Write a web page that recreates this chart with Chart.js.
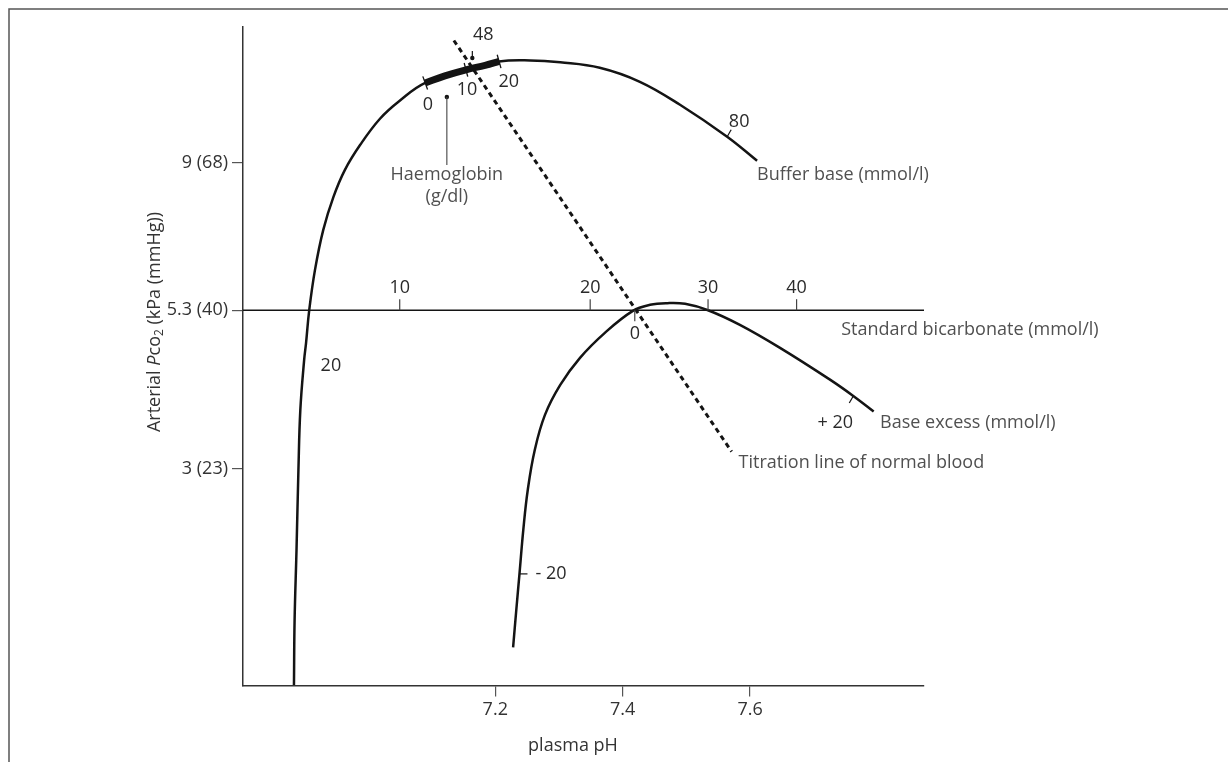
<!DOCTYPE html>
<html><head><meta charset="utf-8">
<script src="https://cdn.jsdelivr.net/npm/chart.js@4"></script>
<style>html,body{margin:0;padding:0;background:#fff}canvas{display:block}</style>
</head><body>
<canvas id="c" width="1228" height="762"></canvas>
<script>
// ---- data (pH, arterial PCO2 in kPa) ----
const bufferBasePH   = [6.884, 6.885, 6.888, 6.891, 6.894, 6.900, 6.903, 6.908, 6.917, 6.930, 6.946, 6.964, 6.988, 7.019, 7.050, 7.090, 7.154, 7.206, 7.255, 7.302, 7.364, 7.427, 7.490, 7.564, 7.611];
const bufferBasePCO2 = [1.382, 1.746, 2.243, 2.989, 3.707, 4.436, 4.714, 5.306, 6.125, 7.070, 7.958, 8.767, 9.590, 10.53, 11.23, 11.97, 12.55, 12.93, 12.98, 12.89, 12.64, 12.02, 11.07, 9.87, 9.055];
const hbPH   = [7.090, 7.121, 7.154, 7.184, 7.206];
const hbPCO2 = [11.97, 12.28, 12.55, 12.75, 12.93];
const hbTickIdx = [0, 2, 4];
const hbTickLabels = ['0', '10', '20'];
const baseExcessPH   = [7.228, 7.233, 7.238, 7.244, 7.251, 7.262, 7.278, 7.302, 7.333, 7.372, 7.416, 7.443, 7.470, 7.498, 7.534, 7.584, 7.647, 7.726, 7.762, 7.794];
const baseExcessPCO2 = [1.582, 1.809, 2.059, 2.411, 2.782, 3.211, 3.641, 4.054, 4.467, 4.886, 5.287, 5.403, 5.436, 5.422, 5.299, 5.028, 4.630, 4.128, 3.897, 3.685];
const titrationPH   = [7.135, 7.571];
const titrationPCO2 = [13.94, 3.192];
const stdBicarbPH   = [6.804, 7.873];
const stdBicarbPCO2 = [5.3, 5.3];
const stdBicarbTickPH = [7.050, 7.349, 7.534, 7.673];
const stdBicarbTickLabels = ['10', '20', '30', '40'];
const xTicks = [7.2, 7.4, 7.6];
const yTicks = [3, 5.3, 9];
const yTickLabels = ['3 (23)', '5.3 (40)', '9 (68)'];
const beZero = [7.419, 5.3];
const point48 = [7.164, 13.09];
const hbDot = [7.124, 11.38];
const bb80 = [7.564, 9.87];
const bePlus20 = [7.762, 3.897];
const beMinus20 = [7.238, 2.059];
const bb20Label = [6.942, 4.341];
const sideLabelText = ['Buffer base (mmol/l)', 'Standard bicarbonate (mmol/l)', 'Base excess (mmol/l)', 'Titration line of normal blood'];
const sideLabelPH   = [7.611, 7.743, 7.804, 7.582];
const sideLabelPCO2 = [8.61, 4.94, 3.538, 3.062];

const FONT = '"Open Sans", "Noto Sans", sans-serif';
const FS = 18;
const INK = '#141414';
const NUM = '#2a2a2a';
const TXT = '#505050';

const pts = (xs, ys) => xs.map((x, i) => ({x, y: ys[i]}));

const annot = {
  id: 'annot',
  beforeDraw(chart) {
    const c = chart.ctx;
    c.save();
    c.strokeStyle = '#555';
    c.lineWidth = 1.5;
    c.beginPath();
    c.moveTo(9, 762); c.lineTo(9, 9); c.lineTo(1228, 9);
    c.stroke();
    c.restore();
  },
  afterDatasetsDraw(chart) {
    const c = chart.ctx, xs = chart.scales.x, ys = chart.scales.y, ca = chart.chartArea;
    const P = (ph, p) => [xs.getPixelForValue(ph), ys.getPixelForValue(p)];
    const line = (x1, y1, x2, y2, w, col) => { c.beginPath(); c.lineWidth = w; c.strokeStyle = col || INK; c.moveTo(x1, y1); c.lineTo(x2, y2); c.stroke(); };
    const text = (s, x, y, align, col) => { c.fillStyle = col || NUM; c.textAlign = align || 'center'; c.textBaseline = 'middle'; c.fillText(s, x, y); };
    const dot = (x, y, r) => { c.beginPath(); c.fillStyle = INK; c.arc(x, y, r, 0, Math.PI * 2); c.fill(); };
    c.save();
    c.font = FS + 'px ' + FONT;
    // standard bicarbonate ticks
    stdBicarbTickPH.forEach((ph, i) => {
      const [x, y] = P(ph, 5.3);
      line(x, y, x, y - 11, 1.2, '#444');
      text(stdBicarbTickLabels[i], x, y - 22);
    });
    // base excess zero
    { const [x, y] = P(beZero[0], beZero[1]); line(x, y, x, y + 11, 1.2, '#444'); text('0', x, y + 24); }
    // haemoglobin ticks on buffer base curve
    hbTickIdx.forEach((k, i) => {
      const [x, y] = P(hbPH[k], hbPCO2[k]);
      const a = P(hbPH[Math.max(0, k - 1)], hbPCO2[Math.max(0, k - 1)]);
      const b = P(hbPH[Math.min(hbPH.length - 1, k + 1)], hbPCO2[Math.min(hbPH.length - 1, k + 1)]);
      let dx = b[0] - a[0], dy = b[1] - a[1]; const L = Math.hypot(dx, dy); dx /= L; dy /= L;
      const nx = -dy, ny = dx;
      line(x - nx * 7, y - ny * 7, x + nx * 7, y + ny * 7, 1.3);
      const off = [[2.7, 21.7], [1, 20], [9.7, 20]][i];
      text(hbTickLabels[i], x + off[0], y + off[1]);
    });
    // 48 point
    { const [x, y] = P(point48[0], point48[1]); dot(x, y, 2.2); line(x, y, x, y - 7, 1.2); text('48', x + 11, y - 23); }
    // haemoglobin label
    { const [x, y] = P(hbDot[0], hbDot[1]); dot(x, y, 2.2); line(x, y, x, y + 68, 1.1, '#444');
      text('Haemoglobin', x, y + 78, 'center', TXT); text('(g/dl)', x, y + 100, 'center', TXT); }
    // 80 tick
    { const [x, y] = P(bb80[0], bb80[1]); line(x, y, x + 4, y - 7, 1.2); text('80', x + 12, y - 15); }
    // +20 tick
    { const [x, y] = P(bePlus20[0], bePlus20[1]); line(x, y, x - 4, y + 7, 1.2); text('+ 20', x - 18, y + 27); }
    // -20 tick
    { const [x, y] = P(beMinus20[0], beMinus20[1]); line(x, y, x + 8, y, 1.2); text('- 20', x + 16, y, 'left'); }
    // 20 on buffer base
    { const [x, y] = P(bb20Label[0], bb20Label[1]); text('20', x, y); }
    // side labels
    sideLabelText.forEach((s, i) => { const [x, y] = P(sideLabelPH[i], sideLabelPCO2[i]); text(s, x, y, 'left', TXT); });
    // x title
    { const x = xs.getPixelForValue(7.322); text('plasma pH', x, ca.bottom + 60, 'center', '#333'); }
    // y title with italic P and subscript 2
    {
      c.translate(ca.left - 88, 322); c.rotate(-Math.PI / 2);
      const parts = [['Arterial ', FS + 'px ' + FONT, 0], ['P', 'italic ' + FS + 'px ' + FONT, 0], ['co', FS + 'px ' + FONT, 0], ['2', '12px ' + FONT, 5], [' (kPa (mmHg))', FS + 'px ' + FONT, 0]];
      let tot = 0; parts.forEach(p => { c.font = p[1]; tot += c.measureText(p[0]).width; });
      let cx = -tot / 2;
      c.fillStyle = '#333'; c.textAlign = 'left'; c.textBaseline = 'middle';
      parts.forEach(p => { c.font = p[1]; c.fillText(p[0], cx, p[2]); cx += c.measureText(p[0]).width; });
    }
    c.restore();
  }
};

new Chart(document.getElementById('c'), {
  type: 'scatter',
  data: { datasets: [
    { data: pts(bufferBasePH, bufferBasePCO2), showLine: true, borderColor: INK, borderWidth: 2.5, pointRadius: 0, tension: 0.4 },
    { data: pts(hbPH, hbPCO2), showLine: true, borderColor: INK, borderWidth: 7, pointRadius: 0, tension: 0.4, borderCapStyle: 'butt' },
    { data: pts(baseExcessPH, baseExcessPCO2), showLine: true, borderColor: INK, borderWidth: 2.5, pointRadius: 0, tension: 0.4 },
    { data: pts(titrationPH, titrationPCO2), showLine: true, borderColor: INK, borderWidth: 3, borderDash: [5, 4], pointRadius: 0 },
    { data: pts(stdBicarbPH, stdBicarbPCO2), showLine: true, borderColor: INK, borderWidth: 1.5, pointRadius: 0 }
  ]},
  options: {
    responsive: false, animation: false,
    layout: { padding: { left: 0, top: 27, right: 304, bottom: 0 } },
    plugins: { legend: { display: false }, tooltip: { enabled: false } },
    scales: {
      x: {
        type: 'linear', min: 6.804, max: 7.873,
        afterFit(s) { s.height = 76.5; },
        afterBuildTicks(s) { s.ticks = xTicks.map(v => ({ value: v })); },
        ticks: { callback: v => Number(v).toFixed(1), font: { family: FONT, size: FS }, color: '#333', padding: 3, maxRotation: 0, autoSkip: false },
        grid: { drawOnChartArea: false, drawTicks: true, tickLength: 11, color: '#555', lineWidth: 1.2 },
        border: { color: '#333', width: 1.5 }
      },
      y: {
        type: 'logarithmic', min: 1.380, max: 14.63,
        afterFit(s) { s.width = 243; },
        afterBuildTicks(s) { s.ticks = yTicks.map(v => ({ value: v })); },
        ticks: { callback: (v, i) => yTickLabels[i], font: { family: FONT, size: FS }, color: '#333', padding: 4, autoSkip: false },
        grid: { drawOnChartArea: false, drawTicks: true, tickLength: 11, color: '#555', lineWidth: 1.2 },
        border: { color: '#333', width: 1.5 }
      }
    }
  },
  plugins: [annot]
});
</script>
</body></html>
